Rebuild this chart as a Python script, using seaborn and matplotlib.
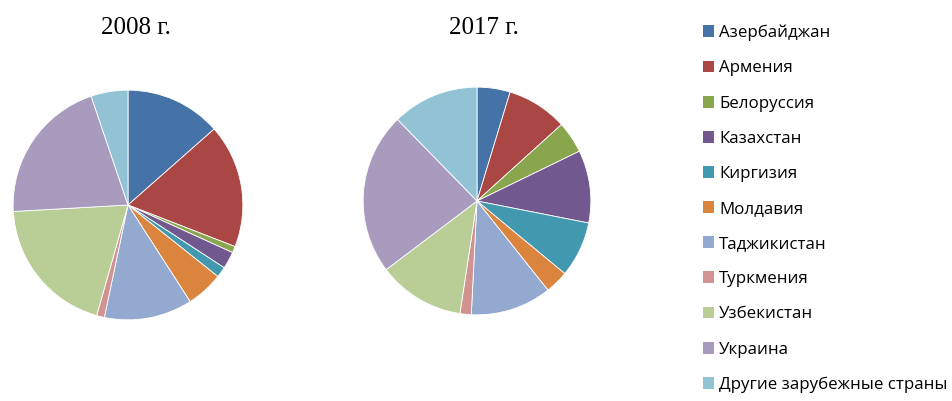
import matplotlib
matplotlib.use("Agg")
import matplotlib.pyplot as plt
import seaborn as sns
from matplotlib.patches import Patch

countries = ["Азербайджан", "Армения", "Белоруссия", "Казахстан", "Киргизия",
             "Молдавия", "Таджикистан", "Туркмения", "Узбекистан", "Украина",
             "Другие зарубежные страны"]
share_2008 = [13.5, 17.4, 0.9, 2.4, 1.5, 5.2, 12.4, 1.1, 19.7, 20.7, 5.2]
share_2017 = [4.7, 8.6, 4.5, 10.3, 7.9, 3.3, 11.5, 1.6, 12.3, 23.0, 12.3]
years = ["2008 г.", "2017 г."]

colors = ["#4572A7", "#AA4643", "#89A54E", "#71588F", "#4198AF", "#DB843D",
          "#93A9CF", "#D19392", "#B9CD96", "#A99BBD", "#92C3D4"]

sns.set_theme(style="white", palette=sns.color_palette(colors))
plt.rcParams["text.color"] = "black"

fig = plt.figure(figsize=(9.53, 4.01), dpi=100)

W, H = 953, 401
def pie_ax(cx, cy, r):
    return fig.add_axes([(cx - r) / W, (H - cy - r) / H, 2 * r / W, 2 * r / H])

ax1 = pie_ax(128, 205, 116)
ax2 = pie_ax(477, 201, 115)

for ax, vals in [(ax1, share_2008), (ax2, share_2017)]:
    ax.pie(vals, colors=colors, startangle=90, counterclock=False, radius=1,
           wedgeprops=dict(linewidth=0.6, edgecolor="white"))
    ax.set_xlim(-1.01, 1.01)
    ax.set_ylim(-1.01, 1.01)
    ax.set_aspect("equal")
    ax.axis("off")

fig.text(136 / W, 1 - 28 / H, years[0], family="Liberation Serif", fontsize=18,
         ha="center", va="center", color="black")
fig.text(484 / W, 1 - 28 / H, years[1], family="Liberation Serif", fontsize=18,
         ha="center", va="center", color="black")

handles = [Patch(facecolor=c, edgecolor="none") for c in colors]
fig.legend(handles, countries, loc="upper left", bbox_to_anchor=(696 / W, 1 - 18 / H),
           frameon=False, handlelength=0.66, handleheight=0.7,
           handletextpad=0.3, labelspacing=1.13, borderaxespad=0,
           labelcolor="black", prop={"family": "Open Sans", "size": 12.2})

fig.savefig("out.png", dpi=100)
